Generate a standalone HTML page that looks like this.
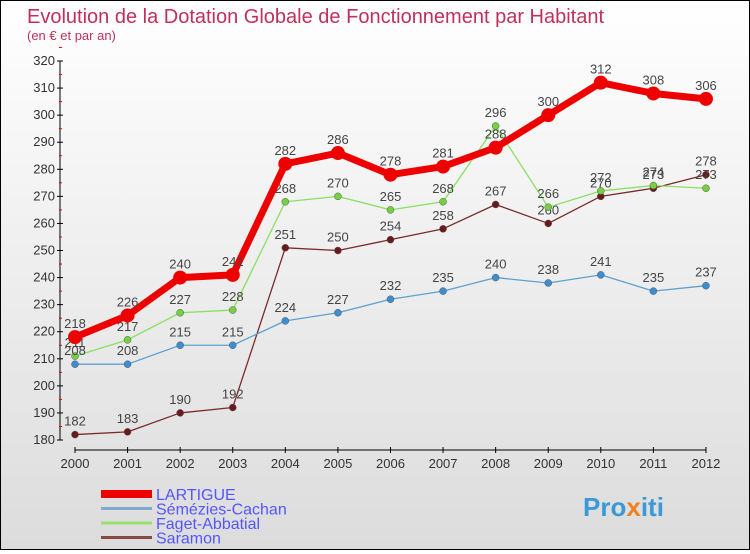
<!DOCTYPE html>
<html><head><meta charset="utf-8"><style>
body{margin:0;width:750px;height:550px;overflow:hidden;font-family:"Liberation Sans",sans-serif}
#wrap{position:absolute;left:0;top:0;width:748px;height:548px;border:1px solid #000;background:linear-gradient(#fff,#dcdcdc)}
</style></head><body>
<div id="wrap">
<svg id="chart" width="748" height="548">
<text x="26" y="22" font-size="20" fill="#c0305a">Evolution de la Dotation Globale de Fonctionnement par Habitant</text>
<text x="26" y="39" font-size="13" fill="#c0305a">(en € et par an)</text>
<g id="axes"></g><g id="series"></g><g id="legend"></g>
<text x="582" y="515" font-size="26" font-weight="bold" fill="#3a9ad9">Pro<tspan fill="#f08020">x</tspan>iti</text>
</svg></div>
<script>
const years=[2000,2001,2002,2003,2004,2005,2006,2007,2008,2009,2010,2011,2012];
const lartigue=[218,226,240,241,282,286,278,281,288,300,312,308,306];
const semezies=[208,208,215,215,224,227,232,235,240,238,241,235,237];
const faget=[211,217,227,228,268,270,265,268,296,266,272,274,273];
const saramon=[182,183,190,192,251,250,254,258,267,260,270,273,278];
const yTicks=[180,190,200,210,220,230,240,250,260,270,280,290,300,310,320];
const NS="http://www.w3.org/2000/svg";
function X(i){return 74+i*52.58;}
function Y(v){return 439-(v-180)*(379/140);}
function mk(t,a,p){const e=document.createElementNS(NS,t);for(const k in a)e.setAttribute(k,a[k]);p.appendChild(e);return e;}
const ax=document.getElementById('axes');
const yl=mk('line',{x1:59,y1:Y(320),x2:59,y2:Y(180),stroke:'#000'},ax);


yTicks.forEach(v=>{
 mk('line',{x1:56,y1:Y(v),x2:62,y2:Y(v),stroke:'#000'},ax);
 mk('line',{x1:58,y1:Y(v+5),x2:61,y2:Y(v+5),stroke:'#e00'},ax);
 const t=mk('text',{x:54,y:Y(v)+4,'font-size':13,fill:'#333','text-anchor':'end'},ax);t.textContent=v;
 
 
});
const xl=mk('line',{x1:X(0),y1:449,x2:X(12),y2:449,stroke:'#000'},ax);


years.forEach((y,i)=>{
 mk('line',{x1:X(i),y1:446,x2:X(i),y2:452,stroke:'#000'},ax);
 const t=mk('text',{x:X(i),y:467,'font-size':13,fill:'#333','text-anchor':'middle'},ax);t.textContent=y;
 
 
});
const sg=document.getElementById('series');
function draw(data,color,dot,w,r,name){
 const g=mk('g',{},sg);
 
 
 mk('polyline',{points:data.map((v,i)=>X(i)+','+Y(v)).join(' '),fill:'none',stroke:color,'stroke-width':w,'stroke-linejoin':'round'},g);
 data.forEach((v,i)=>{
  const c=mk('circle',{cx:X(i),cy:Y(v),r:r,fill:dot,stroke:'#555','stroke-width':r>5?0:0.5},g);
  
  
  const t=mk('text',{x:X(i),y:Y(v)-9,'font-size':13,fill:'#444','text-anchor':'middle'},g);t.textContent=v;
  
  
 });
}
draw(saramon,'#7a2a2a','#6a1a1a',1.3,3.5,'saramon');
draw(faget,'#88e060','#77d040',1.3,3.5,'faget-abbatial');
draw(semezies,'#5ea0d0','#3d8ed0',1.3,3.5,'semezies-cachan');
draw(lartigue,'#ee0000','#ee0000',7,7,'lartigue');
const lg=document.getElementById('legend');
const items=[['LARTIGUE','#ee0000',8],['Sémézies-Cachan','#80aad0',3],['Faget-Abbatial','#99e070',3],['Saramon','#8a4848',3]];
items.forEach((it,k)=>{
 const y=493+k*14.5;
 const g=mk('g',{},lg);
 
 
 mk('line',{x1:100,y1:y,x2:151,y2:y,stroke:it[1],'stroke-width':it[2]},g);
 const t=mk('text',{x:155,y:y+6,'font-size':16,fill:'#5555ff'},g);t.textContent=it[0];
});
</script></body></html>
